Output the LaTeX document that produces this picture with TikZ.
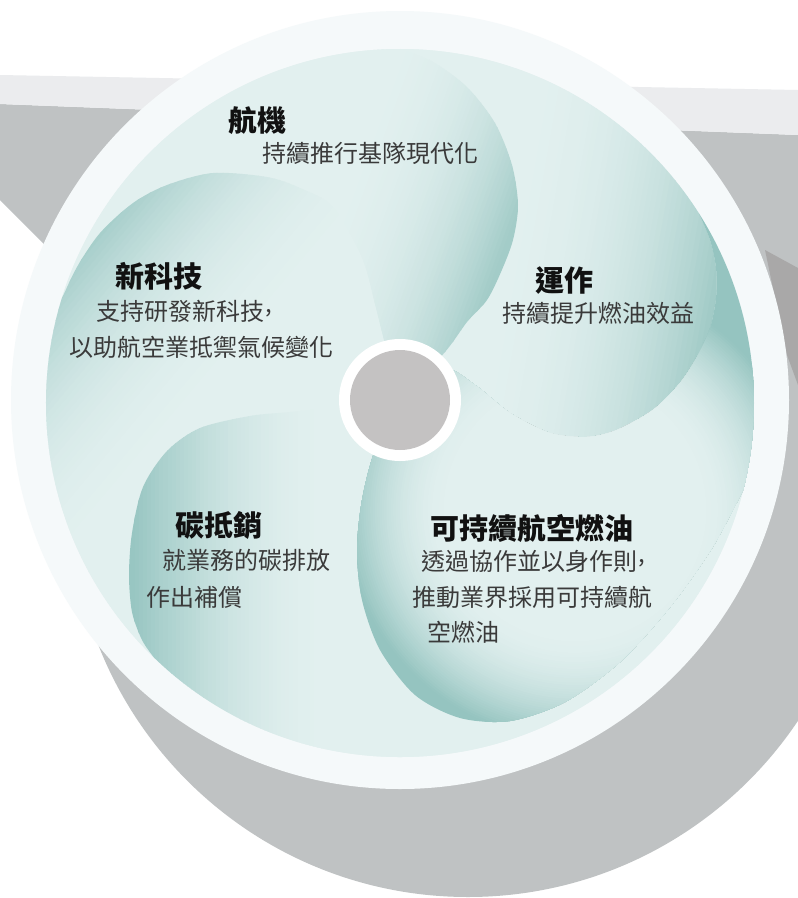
\documentclass[tikz,border=0pt]{standalone}
\usepackage{fontspec}
\setmainfont{Noto Sans CJK TC}
\definecolor{ringc}{HTML}{F5F9FA}
\definecolor{diskc}{HTML}{E2F0EF}
\definecolor{grayd}{HTML}{BFC2C3}
\definecolor{grayl}{HTML}{EBECEE}
\definecolor{graydk}{HTML}{A9A8A8}
\definecolor{hubc}{HTML}{C4C2C2}
\definecolor{dka}{HTML}{A0CAC6}
\definecolor{dkb}{HTML}{96C5C1}
\definecolor{dkc}{HTML}{A3CCC8}
\definecolor{dkd}{HTML}{98C6C2}
\definecolor{dke}{HTML}{95C4C0}
\definecolor{titlec}{HTML}{111111}
\definecolor{bodyc}{HTML}{3A3A3A}
\newcommand\hcomma{\kern1pt\raisebox{8pt}{,}}
\newcommand\lingrad[7]{%
 \begin{scope}
  \clip #1;
  \begin{scope}[shift={#2}, rotate=#3]
   \fill[#5] (-1400,-1400) rectangle (0.5,1400);
   \foreach \i in {0,...,47}{
     \pgfmathsetmacro\xa{\i*#4/48}
     \pgfmathsetmacro\xb{(\i+1)*#4/48+0.6}
     \pgfmathtruncatemacro\mixv{100*((\i+0.5)/48)^#7}
     \fill[#6!\mixv!#5] (\xa,-1400) rectangle (\xb,1400);
   }
   \fill[#6] (#4,-1400) rectangle (1400+#4,1400);
  \end{scope}
 \end{scope}}
\newcommand\radgrad[7]{%
 \begin{scope}
  \clip #1;
  \fill[#6] (-100,-100) rectangle (1000,1000);
  \foreach \i in {47,46,...,0}{
    \pgfmathsetmacro\rr{#3+(\i+1)*(#4-#3)/48}
    \pgfmathtruncatemacro\mixv{100*((\i+0.5)/48)^#7}
    \fill[#6!\mixv!#5] #2 circle[radius=\rr];
  }
  \fill[#5] #2 circle[radius=#3];
 \end{scope}}
% tiles
\def\tileC{(400,400) -- plot[smooth] coordinates {(400,400) (442,368) (475,385) (510,413) (550,433) (587,437) (617,430) (653,410) (680,383) (698,355) (710,328) (716,298) (716,268) (710,240) (698.89,213.32)}
 arc[start angle=-32.4, end angle=-90, radius=354]
 -- plot[smooth] coordinates {(400,49) (433,62) (467,87) (495,123) (512,165) (518,205) (513,240) (501,272) (487,300) (467,322) (445,352) (400,400)} -- cycle}
\def\tileA{(400,400) -- plot[smooth] coordinates {(400,400) (445,352) (467,322) (487,300) (501,272) (513,240) (518,205) (512,165) (495,123) (467,87) (433,62) (400,49)}
 arc[start angle=-90, end angle=-163, radius=354]
 -- plot[smooth] coordinates {(61.47,299.5) (77,267) (100,233) (133,203) (167,185) (213,173) (267,177) (300,188) (333,207) (362,258) (375,305) (385,345) (400,400)} -- cycle}
\def\tileB{(400,400) -- plot[smooth] coordinates {(400,400) (385,345) (375,305) (362,258) (333,207) (300,188) (267,177) (213,173) (167,185) (133,203) (100,233) (77,267) (61.47,299.5)}
 arc[start angle=-163, end angle=-226, radius=354]
 -- plot[smooth] coordinates {(154.09,657.65) (142,640) (132,612) (129,575) (132,533) (143,487) (167,451) (200,428) (250,416) (290,412) (340,407) (400,400)} -- cycle}
\def\tileD{(400,400) -- plot[smooth] coordinates {(400,400) (340,407) (290,412) (250,416) (200,428) (167,451) (143,487) (132,533) (129,575) (132,612) (142,640) (154.09,657.65)}
 arc[start angle=-226, end angle=-345.8, radius=354]
 -- plot[smooth] coordinates {(743.19,489.84) (712,548) (670,607) (620,662) (565,702) (510,721) (460,718) (415,695) (380,650) (362,600) (357,550) (362,500) (375,450) (400,400)} -- cycle}
\def\tileE{(400,400) -- plot[smooth] coordinates {(400,400) (375,450) (362,500) (357,550) (362,600) (380,650) (415,695) (460,718) (510,721) (565,702) (620,662) (670,607) (712,548) (743.19,489.84)}
 arc[start angle=-345.8, end angle=-392.4, radius=354]
 -- plot[smooth] coordinates {(698.89,213.32) (710,240) (716,268) (716,298) (710,328) (698,355) (680,383) (653,410) (617,430) (587,437) (550,433) (510,413) (475,385) (442,368) (400,400)} -- cycle}
\tikzset{
 ttl/.style={anchor=base west, inner sep=0pt, font=\fontsize{29}{34}\selectfont\bfseries, text=titlec},
 body/.style={anchor=base west, inner sep=0pt, font=\fontsize{24}{28}\selectfont, text=bodyc}}
\begin{document}
\begin{tikzpicture}[x=1pt,y=-1pt]
\useasboundingbox (0,0) rectangle (798,898);
\clip (0,0) rectangle (798,898);
\fill[white] (0,0) rectangle (798,898);
% shadow
\fill[grayd] (0,104) -- (798,135) -- (798,721) -- (468,500) -- (45,245) -- (0,200) -- cycle;
\fill[grayd] (468,500) circle[radius=397];
\fill[grayl] (0,75) -- (798,90) -- (798,135) -- (0,104) -- cycle;
\fill[graydk] (765,250) -- (798,268) -- (798,385) -- (787,355) -- cycle;
% disc
\fill[ringc] (400,400) circle[radius=389];
\fill[diskc] (400,403) circle[radius=354];
% blades
\lingrad{\tileC}{(480,250)}{-10}{240}{diskc}{dka}{2.5}
\lingrad{\tileA}{(330,170)}{-20}{190}{diskc}{dkc}{2.5}
\lingrad{\tileB}{(250,380)}{140}{230}{diskc}{dkb}{2.5}
\lingrad{\tileD}{(330,500)}{180}{195}{diskc}{dkd}{1.8}
\radgrad{\tileE}{(575,510)}{120}{230}{diskc}{dke}{2}
% hub
\fill[white] (400,400) circle[radius=61];
\fill[hubc] (400,400) circle[radius=50];
% texts
\node[ttl] (t1) at (228,131) {航機};
\node[body] (s1) at (262,162) {持續推行基隊現代化};
\node[ttl] (t2) at (115,287) {新科技};
\node[body] (s2a) at (96,320) {支持研發新科技\hcomma};
\node[body] (s2b) at (69,356) {以助航空業抵禦氣候變化};
\node[ttl] (t3) at (535,291) {運作};
\node[body] (s3) at (502,322) {持續提升燃油效益};
\node[ttl] (t4) at (175,536) {碳抵銷};
\node[body] (s4a) at (162,569) {就業務的碳排放};
\node[body] (s4b) at (146,606) {作出補償};
\node[ttl] (t5) at (430,539) {可持續航空燃油};
\node[body] (s5a) at (421,570) {透過協作並以身作則\hcomma};
\node[body] (s5b) at (412,606) {推動業界採用可持續航};
\node[body] (s5c) at (427,641) {空燃油};
\end{tikzpicture}
\end{document}
